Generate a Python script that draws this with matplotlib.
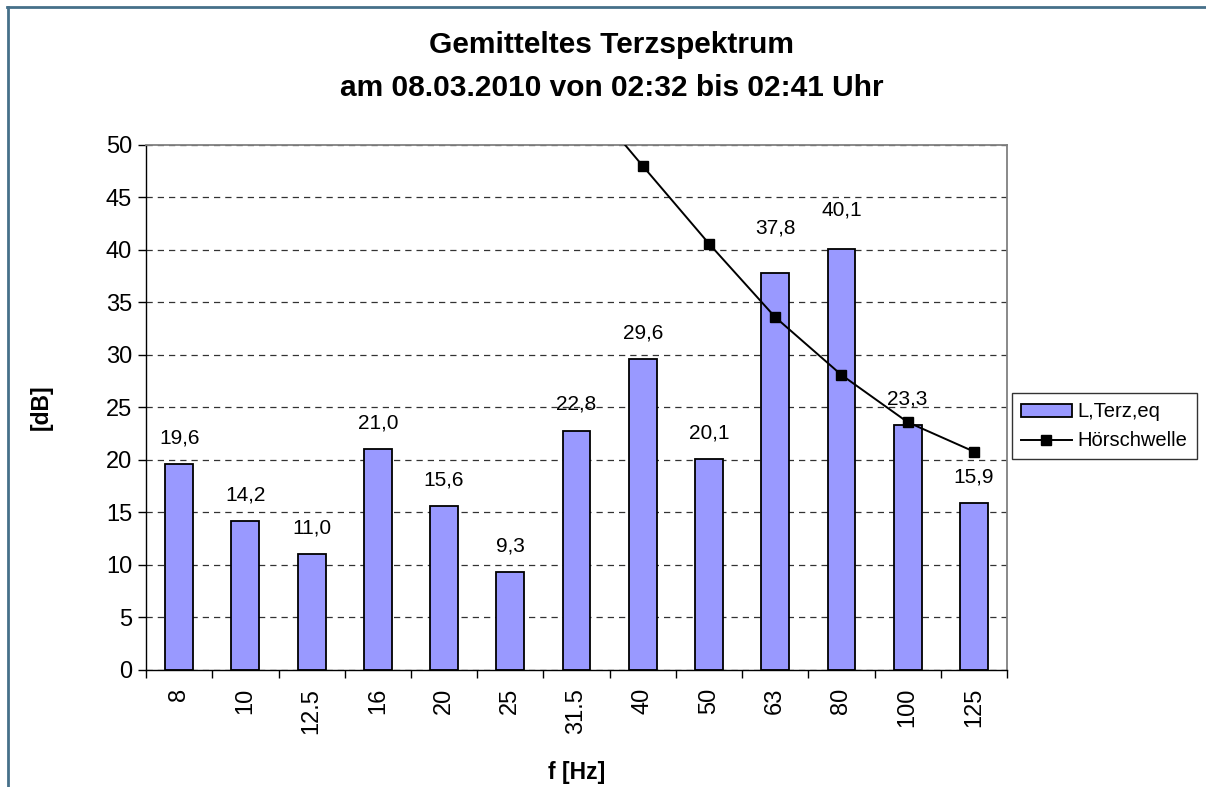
import matplotlib as mpl

mpl.use("Agg")

import matplotlib.pyplot as plt
import numpy as np
from matplotlib.lines import Line2D

freq_labels = ["8", "10", "12.5", "16", "20", "25", "31.5", "40", "50", "63", "80", "100", "125"]
l_terz = [19.6, 14.2, 11.0, 21.0, 15.6, 9.3, 22.8, 29.6, 20.1, 37.8, 40.1, 23.3, 15.9]
# Hörschwelle: only the visible part (31.5 Hz point is above the axis and clipped)
hoerschwelle = [np.nan, np.nan, np.nan, np.nan, np.nan, np.nan, 55.5, 48.0, 40.6, 33.6, 28.1, 23.6, 20.8]
# vertical gap (dB) between bar top and its value label, as placed in the original
label_gap = [2.5, 2.5, 2.5, 2.5, 2.5, 2.5, 2.5, 2.5, 2.5, 4.3, 3.7, 2.5, 2.5]

BAR = "#9999FF"
FRAME = "#46708A"

plt.rcParams["font.family"] = ["Liberation Sans", "DejaVu Sans"]

fig = plt.figure(figsize=(12.06, 7.87), dpi=100)
ax = fig.add_axes([0.1211, 0.1487, 0.835 - 0.1211, 0.8158 - 0.1487])

x = np.arange(len(freq_labels))
bars = ax.bar(x, l_terz, width=0.42, color=BAR, edgecolor="black", linewidth=1.3,
              label="L,Terz,eq", zorder=2)
line, = ax.plot(x, hoerschwelle, color="black", linewidth=1.4, marker="s", markersize=7,
                label="Hörschwelle", zorder=3)

for xi, v, g in zip(x, l_terz, label_gap):
    ax.text(xi, v + g, f"{v:.1f}".replace(".", ","), ha="center", va="center",
            fontsize=15, color="black", zorder=4)

ax.set_xlim(-0.5, len(freq_labels) - 0.5)
ax.set_ylim(0, 50)
ax.set_yticks(np.arange(0, 51, 5))
ax.tick_params(axis="y", labelsize=17, length=6, width=1, direction="out", pad=4)
ax.yaxis.grid(True, linestyle=(0, (5, 4)), color="#333333", linewidth=0.9, zorder=0)
ax.set_axisbelow(True)

ax.set_xticks(x)
ax.set_xticklabels(freq_labels, rotation=90, va="top", ha="center")
ax.set_xticks(np.arange(-0.5, len(freq_labels), 1), minor=True)
ax.tick_params(axis="x", which="major", length=0, labelsize=17, pad=13)
ax.tick_params(axis="x", which="minor", length=6, width=1, direction="out")

for side in ("top", "right"):
    ax.spines[side].set_color("#808080")
    ax.spines[side].set_linewidth(1.3)
for side in ("left", "bottom"):
    ax.spines[side].set_color("black")
    ax.spines[side].set_linewidth(1.0)

fig.text(0.507, 0.943, "Gemitteltes Terzspektrum", ha="center", va="center",
         fontsize=21.5, weight="bold")
fig.text(0.507, 0.888, "am 08.03.2010 von 02:32 bis 02:41 Uhr", ha="center", va="center",
         fontsize=21.5, weight="bold")
fig.text(0.034, 0.482, "[dB]", rotation=90, ha="center", va="center",
         fontsize=16.5, weight="bold")
fig.text(0.4785, 0.018, "f [Hz]", ha="center", va="center", fontsize=16.5, weight="bold")

leg = ax.legend([bars, line], ["L,Terz,eq", "Hörschwelle"], loc="upper left",
                bbox_to_anchor=(1.006, 0.527), frameon=True, fancybox=False,
                edgecolor="black", fontsize=14.5, handlelength=2.5, handleheight=0.6,
                handletextpad=0.3, borderpad=0.45, labelspacing=0.5, borderaxespad=0)
leg.get_frame().set_linewidth(1.0)

# outer chart frame (top and left edges visible)
fig.add_artist(Line2D([0.0065, 0.0065], [0.0, 0.9915], transform=fig.transFigure,
                      color=FRAME, linewidth=2))
fig.add_artist(Line2D([0.0058, 1.0], [0.9915, 0.9915], transform=fig.transFigure,
                      color=FRAME, linewidth=2))

fig.savefig("out.png", dpi=100, facecolor="white")
